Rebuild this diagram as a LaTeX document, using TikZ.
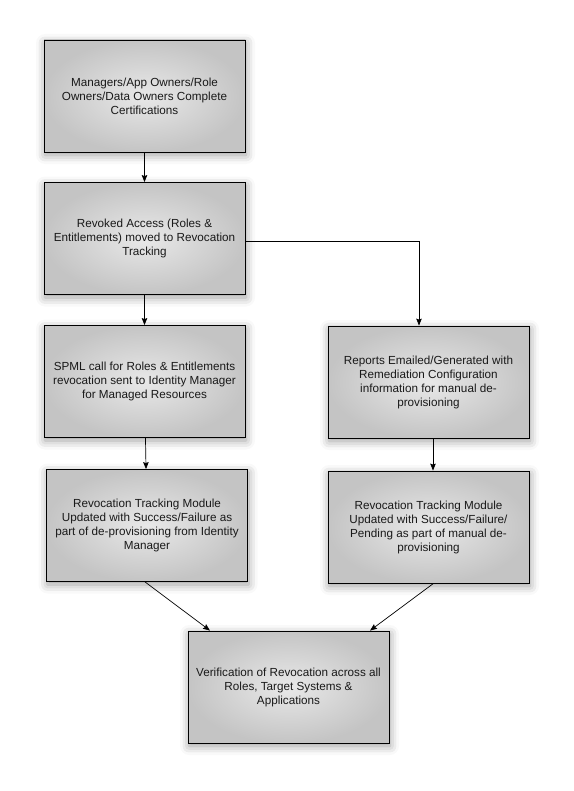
\documentclass[tikz,border=0pt]{standalone}
\usepackage{fontspec}
\setmainfont{Liberation Sans}
\usetikzlibrary{arrows.meta,shadows.blur}
\begin{document}
\begin{tikzpicture}[x=1pt,y=-1pt,
  procbox/.style={draw=black, line width=0.8pt, minimum width=201pt, minimum height=112pt,
    inner color=black!9, outer color=black!23,
    blur shadow={shadow xshift=1pt, shadow yshift=-3pt, shadow blur radius=9pt, shadow opacity=40},
    align=center, font=\fontsize{11.7}{14}\selectfont, text=black!90},
  conn/.style={draw=black, line width=0.7pt, -{Stealth[length=7pt,width=5.5pt,inset=1pt]}}]
\useasboundingbox (0,0) rectangle (573,791);
\node[procbox] (b1) at (144.5,96) {Managers/App Owners/Role\\Owners/Data Owners Complete\\Certifications};
\node[procbox] (b2) at (144.5,238.5) {Revoked Access (Roles \&\\Entitlements) moved to Revocation\\Tracking};
\node[procbox] (b3) at (144.5,381.5) {SPML call for Roles \& Entitlements\\revocation sent to Identity Manager\\for Managed Resources};
\node[procbox] (b4) at (428.5,382) {Reports Emailed/Generated with\\Remediation Configuration\\information for manual de-\\provisioning};
\node[procbox] (b5) at (147,525.5) {Revocation Tracking Module\\Updated with Success/Failure as\\part of de-provisioning from Identity\\Manager};
\node[procbox] (b6) at (428.5,527) {Revocation Tracking Module\\Updated with Success/Failure/\\Pending as part of manual de-\\provisioning};
\node[procbox] (b7) at (288.5,687) {Verification of Revocation across all\\Roles, Target Systems \&\\Applications};
\coordinate (c1) at (419,241);
\draw[conn] (b1) -- (b2);
\draw[conn] (b2) -- (b3);
\draw[conn] (b3) -- (b5);
\draw[conn] (b2.east |- c1) -- (c1) -- (c1 |- b4.north);
\draw[conn] ([xshift=4.5pt]b4.south) -- ([xshift=4.5pt]b6.north);
\draw[conn] ([xshift=-2pt]b5.south) -- ([xshift=-78.5pt]b7.north);
\draw[conn] ([xshift=5pt]b6.south) -- ([xshift=81.5pt]b7.north);
\end{tikzpicture}
\end{document}
